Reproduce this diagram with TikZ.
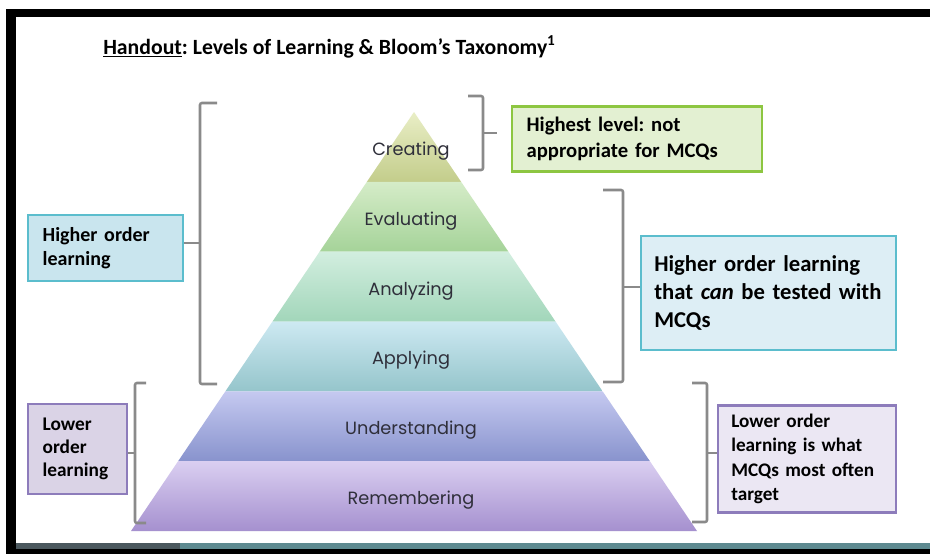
\documentclass[tikz,border=0pt]{standalone}
\usepackage{fontspec}
\setmainfont{Carlito}
\newfontfamily\gothic{Poppins}
\frenchspacing

\definecolor{bracegray}{HTML}{8A8A8A}
\definecolor{lvltext}{HTML}{2F2F3A}
\definecolor{stripdark}{HTML}{4B585E}
\definecolor{striplight}{HTML}{5E8A90}
% pyramid bands, top and bottom of each gradient
\definecolor{crtop}{HTML}{E9EEC6}
\definecolor{crbot}{HTML}{C3CD8B}
\definecolor{evtop}{HTML}{D5ECC8}
\definecolor{evbot}{HTML}{A5D399}
\definecolor{antop}{HTML}{D2EEDF}
\definecolor{anbot}{HTML}{A2D6BA}
\definecolor{aptop}{HTML}{CDE9F2}
\definecolor{apbot}{HTML}{95C5CB}
\definecolor{untop}{HTML}{C5C9F0}
\definecolor{unbot}{HTML}{8893CD}
\definecolor{retop}{HTML}{DACFF1}
\definecolor{rebot}{HTML}{A590CF}
% boxes
\definecolor{grline}{HTML}{8DC641}
\definecolor{grfill}{HTML}{E3F0D2}
\definecolor{tealline}{HTML}{5BBDCD}
\definecolor{tealfillA}{HTML}{C9E5EE}
\definecolor{tealfillB}{HTML}{DDEEF5}
\definecolor{purpline}{HTML}{8D7CBB}
\definecolor{purpfillA}{HTML}{DAD3E6}
\definecolor{purpfillB}{HTML}{EBE7F3}

\begin{document}
\begin{tikzpicture}[x=0.75pt,y=-0.75pt,
   notebox/.style={draw, line width=2.2pt, align=left, inner xsep=11pt, inner ysep=0pt},
   lvl/.style={anchor=base, text=lvltext, font=\gothic\fontsize{13.3}{16}\selectfont},
   grouping/.style={draw=bracegray, line width=1.9pt, rounded corners=1.5pt}]

   \useasboundingbox (0,0) rectangle (930,554);
   % slide frame
   \fill[white] (0,0) rectangle (930,554);
   \fill[black] (6,9) rectangle (930,554);
   \fill[white] (16,17) rectangle (930,543);
   \fill[stripdark] (16,543) rectangle (180,549);
   \fill[striplight] (180,543) rectangle (930,549);

   \node[anchor=base west, inner sep=0pt, font=\bfseries\fontsize{16.3}{19}\selectfont] (title) at (103,54)
      {\underline{Handout}: Levels of Learning \& Bloom's Taxonomy\textsuperscript{1}};

   % the six levels
   \shade[top color=crtop, bottom color=crbot] (414,112) -- (461.1,181.8) -- (366.9,181.8) -- cycle;
   \shade[top color=evtop, bottom color=evbot] (366.9,181.8) -- (461.1,181.8) -- (508.4,251.7) -- (319.6,251.7) -- cycle;
   \shade[top color=antop, bottom color=anbot] (319.6,251.7) -- (508.4,251.7) -- (555.5,321.5) -- (272.5,321.5) -- cycle;
   \shade[top color=aptop, bottom color=apbot] (272.5,321.5) -- (555.5,321.5) -- (602.6,391.3) -- (225.4,391.3) -- cycle;
   \shade[top color=untop, bottom color=unbot] (225.4,391.3) -- (602.6,391.3) -- (649.9,461.2) -- (178.1,461.2) -- cycle;
   \shade[top color=retop, bottom color=rebot] (178.1,461.2) -- (649.9,461.2) -- (697,531) -- (131,531) -- cycle;

   \node[lvl] (creating) at (411,155.5) {Creating};
   \node[lvl] (evaluating) at (411,225.3) {Evaluating};
   \node[lvl] (analyzing) at (411,295.1) {Analyzing};
   \node[lvl] (applying) at (411,364.9) {Applying};
   \node[lvl] (understanding) at (411,434.8) {Understanding};
   \node[lvl] (remembering) at (411,504.6) {Remembering};

   % notes on the right
   \node[notebox, draw=grline, fill=grfill, text width=165.5pt, minimum height=48.75pt,
      font=\bfseries\fontsize{15.5}{19.5}\selectfont] (highest) at (637,139)
      {Highest level: not\\appropriate for MCQs};
   \node[notebox, draw=tealline, fill=tealfillB, inner xsep=10pt, text width=171.25pt, minimum height=85.5pt,
      font=\bfseries\fontsize{17}{21}\selectfont] (hot) at (768.5,293)
      {Higher order learning\\that \emph{can} be tested with\\MCQs};
   \node[notebox, draw=purpline, fill=purpfillB, inner xsep=10pt, text width=113.5pt, minimum height=80pt,
      font=\bfseries\fontsize{14.4}{18.3}\selectfont] (lot) at (807,459)
      {Lower order\\learning is what\\MCQs most often\\target};

   % notes on the left
   \node[notebox, draw=tealline, fill=tealfillA, text width=94.25pt, minimum height=49.5pt,
      font=\bfseries\fontsize{15}{18.2}\selectfont] (hol) at (105.5,248)
      {Higher order\\learning};
   \node[notebox, draw=purpline, fill=purpfillA, text width=52.25pt, minimum height=67.5pt,
      font=\bfseries\fontsize{14.5}{17.5}\selectfont] (lol) at (77.5,449)
      {Lower\\order\\learning};

   % brackets
   \coordinate (tipC) at (483,133);
   \coordinate (tipH) at (623,287);
   \coordinate (tipL) at (707,453);
   \coordinate (tipHL) at (200,243);
   \coordinate (tipLL) at (135,453);

   \draw[grouping] (468,96) -- (483,96) -- (483,170) -- (468,170);
   \draw[grouping] (tipC) -- ++(14,0);
   \draw[grouping] (603,190) -- (623,190) -- (623,382) -- (603,382);
   \draw[grouping] (tipH) -- (tipH -| hot.west);
   \draw[grouping] (692,383) -- (707,383) -- (707,522) -- (692,522);
   \draw[grouping] (tipL) -- (tipL -| lot.west);

   \draw[grouping] (217,103) -- (200,103) -- (200,384) -- (217,384);
   \draw[grouping] (tipHL) -- (tipHL -| hol.east);
   \draw[grouping] (146,383) -- (135,383) -- (135,523) -- (146,523);
   \draw[grouping] (tipLL) -- (tipLL -| lol.east);

\end{tikzpicture}
\end{document}
